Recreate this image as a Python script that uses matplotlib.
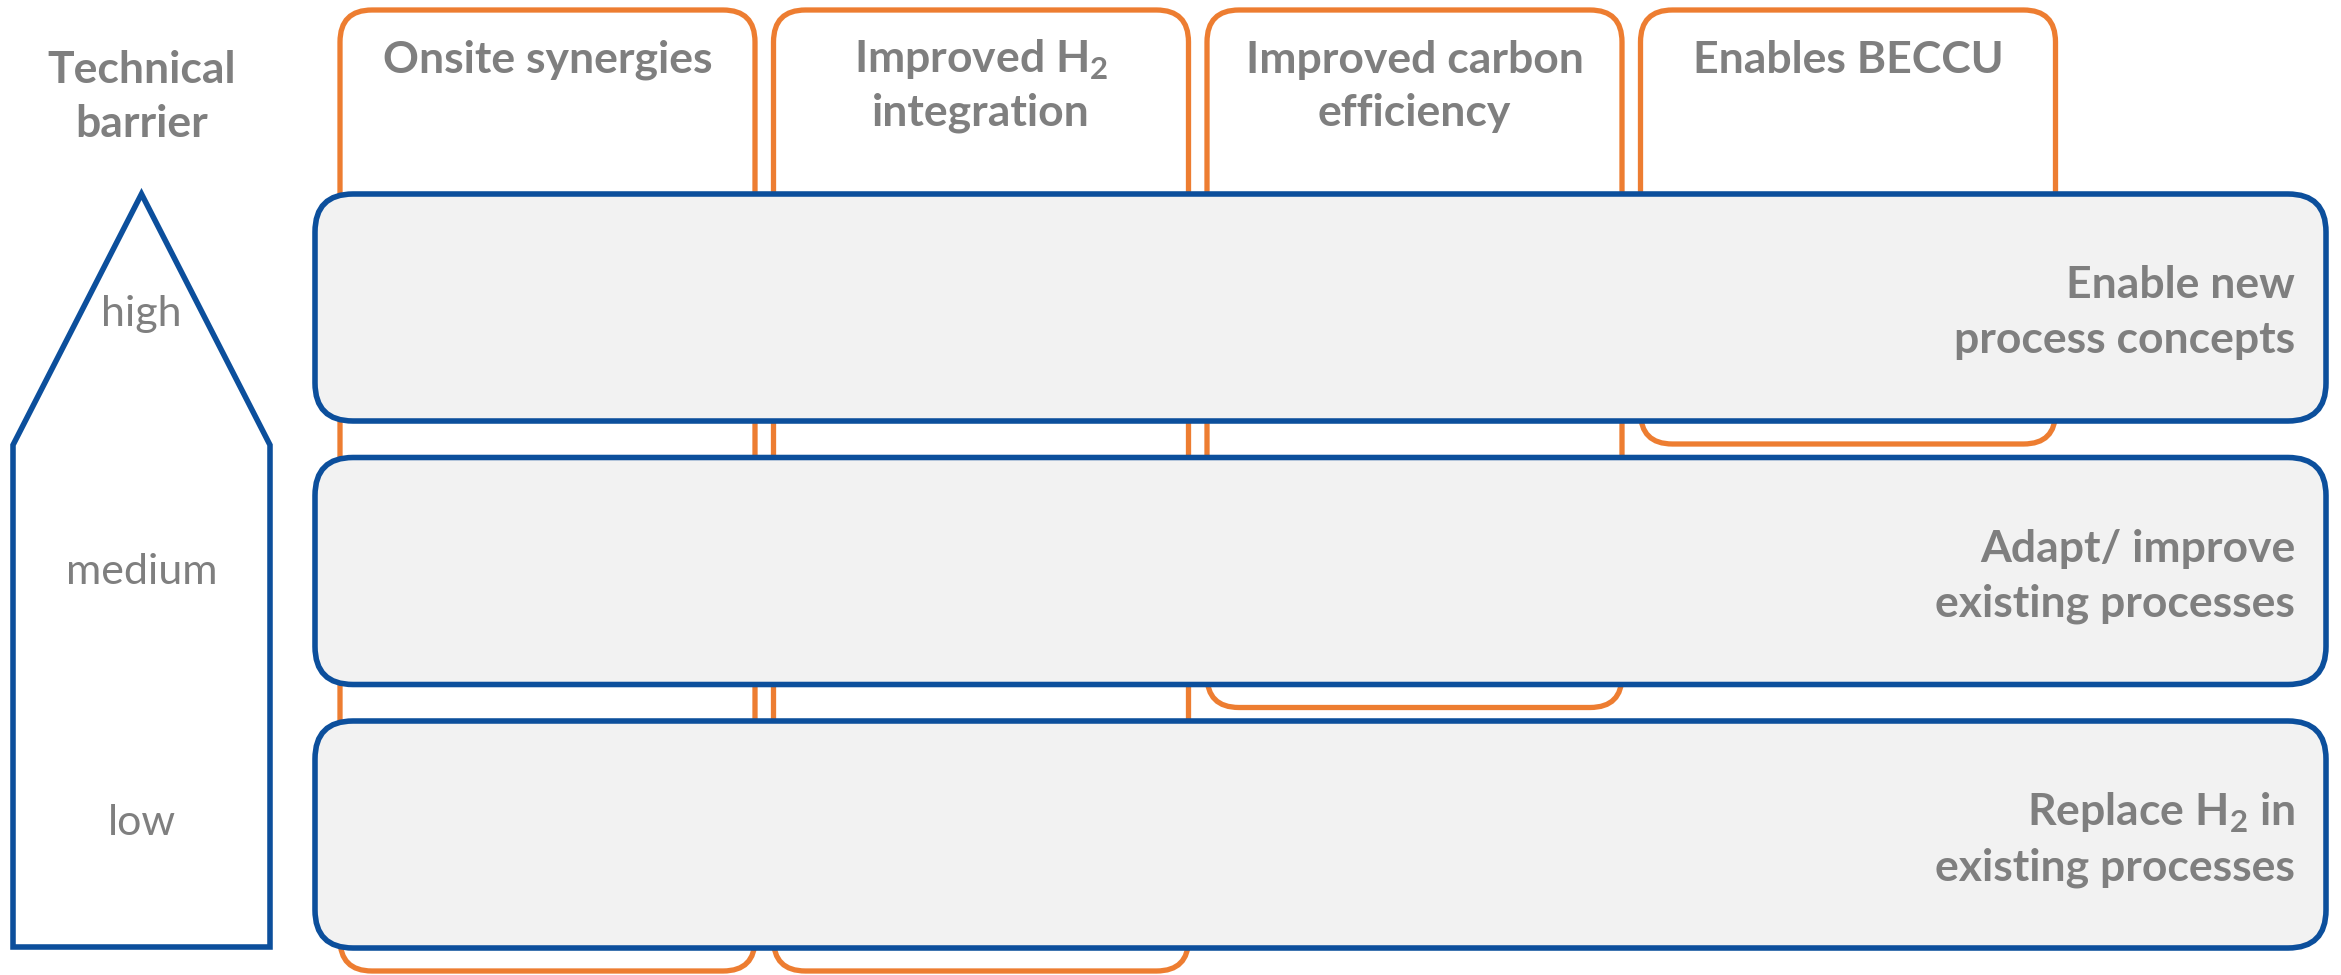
import matplotlib
matplotlib.use("Agg")
import matplotlib.pyplot as plt
from matplotlib.patches import FancyBboxPatch, Polygon

plt.rcParams['font.family'] = ['Lato', 'DejaVu Sans']
plt.rcParams['mathtext.fontset'] = 'custom'
plt.rcParams['mathtext.rm'] = 'Lato'
plt.rcParams['mathtext.bf'] = 'Lato:bold'

# ---- content ----
axis_title = ["Technical", "barrier"]
levels = ["high", "medium", "low"]
row_labels = [["Enable new", "process concepts"],
              ["Adapt/ improve", "existing processes"],
              [r"Replace H$_\mathbf{2}$ in", "existing processes"]]
col_labels = [["Onsite synergies"],
              [r"Improved H$_\mathbf{2}$", "integration"],
              ["Improved carbon", "efficiency"],
              ["Enables BECCU"]]
# lowest barrier level (1=high .. 3=low) each benefit column reaches
col_reach = [3, 3, 2, 1]

GRAY = "#7f7f7f"
BLUE = "#0c4f9c"
ORANGE = "#ed7d31"
FILL = "#f2f2f2"

W, H = 2341, 975
fig = plt.figure(figsize=(W / 100, H / 100), dpi=100)
ax = fig.add_axes([0, 0, 1, 1])
ax.set_xlim(0, W)
ax.set_ylim(H, 0)
ax.axis("off")

# layout
row_x0, row_x1 = 315, 2326
row_top0, row_h, row_pitch = 194, 227, 263.5
col_x0, col_w, col_pitch = 340, 415, 433.5
col_top = 10
FS = 32

def row_top(i):
    return row_top0 + i * row_pitch

# orange columns
for j, (lab, reach) in enumerate(zip(col_labels, col_reach)):
    x = col_x0 + j * col_pitch
    bottom = row_top(reach - 1) + row_h + 23
    p = FancyBboxPatch((x, col_top), col_w, bottom - col_top,
                       boxstyle="round,pad=0,rounding_size=32",
                       fc="white", ec=ORANGE, lw=3.8, zorder=1)
    ax.add_patch(p)
    cx = x + col_w / 2
    for k, line in enumerate(lab):
        ax.text(cx, 60 + k * 53, line, ha="center", va="center",
                fontsize=FS, fontweight="bold", color=GRAY, zorder=5)

# blue rows
for i, lab in enumerate(row_labels):
    y = row_top(i)
    p = FancyBboxPatch((row_x0, y), row_x1 - row_x0, row_h,
                       boxstyle="round,pad=0,rounding_size=38",
                       fc=FILL, ec=BLUE, lw=4.0, zorder=2)
    ax.add_patch(p)
    cy = y + row_h / 2
    ax.text(2295, cy - 22, lab[0], ha="right", va="center",
            fontsize=FS, fontweight="bold", color=GRAY, zorder=5)
    ax.text(2295, cy + 33, lab[1], ha="right", va="center",
            fontsize=FS, fontweight="bold", color=GRAY, zorder=5)

# arrow (pentagon)
ax_l, ax_r = 13, 270
apex_y, shoulder_y, base_y = 194, 445, 947
arrow = Polygon([(ax_l, base_y), (ax_r, base_y), (ax_r, shoulder_y),
                 ((ax_l + ax_r) / 2, apex_y), (ax_l, shoulder_y)],
                closed=True, fc="white", ec=BLUE, lw=4.0, zorder=2,
                joinstyle="miter")
ax.add_patch(arrow)
acx = (ax_l + ax_r) / 2
level_y = [314, 572, 823]
for lab, ly in zip(levels, level_y):
    ax.text(acx, ly, lab, ha="center", va="center", fontsize=31,
            color=GRAY, zorder=5)

for k, line in enumerate(axis_title):
    ax.text(acx, 70 + k * 54, line, ha="center", va="center",
            fontsize=FS, fontweight="bold", color=GRAY, zorder=5)

fig.savefig("out.png", dpi=100)
